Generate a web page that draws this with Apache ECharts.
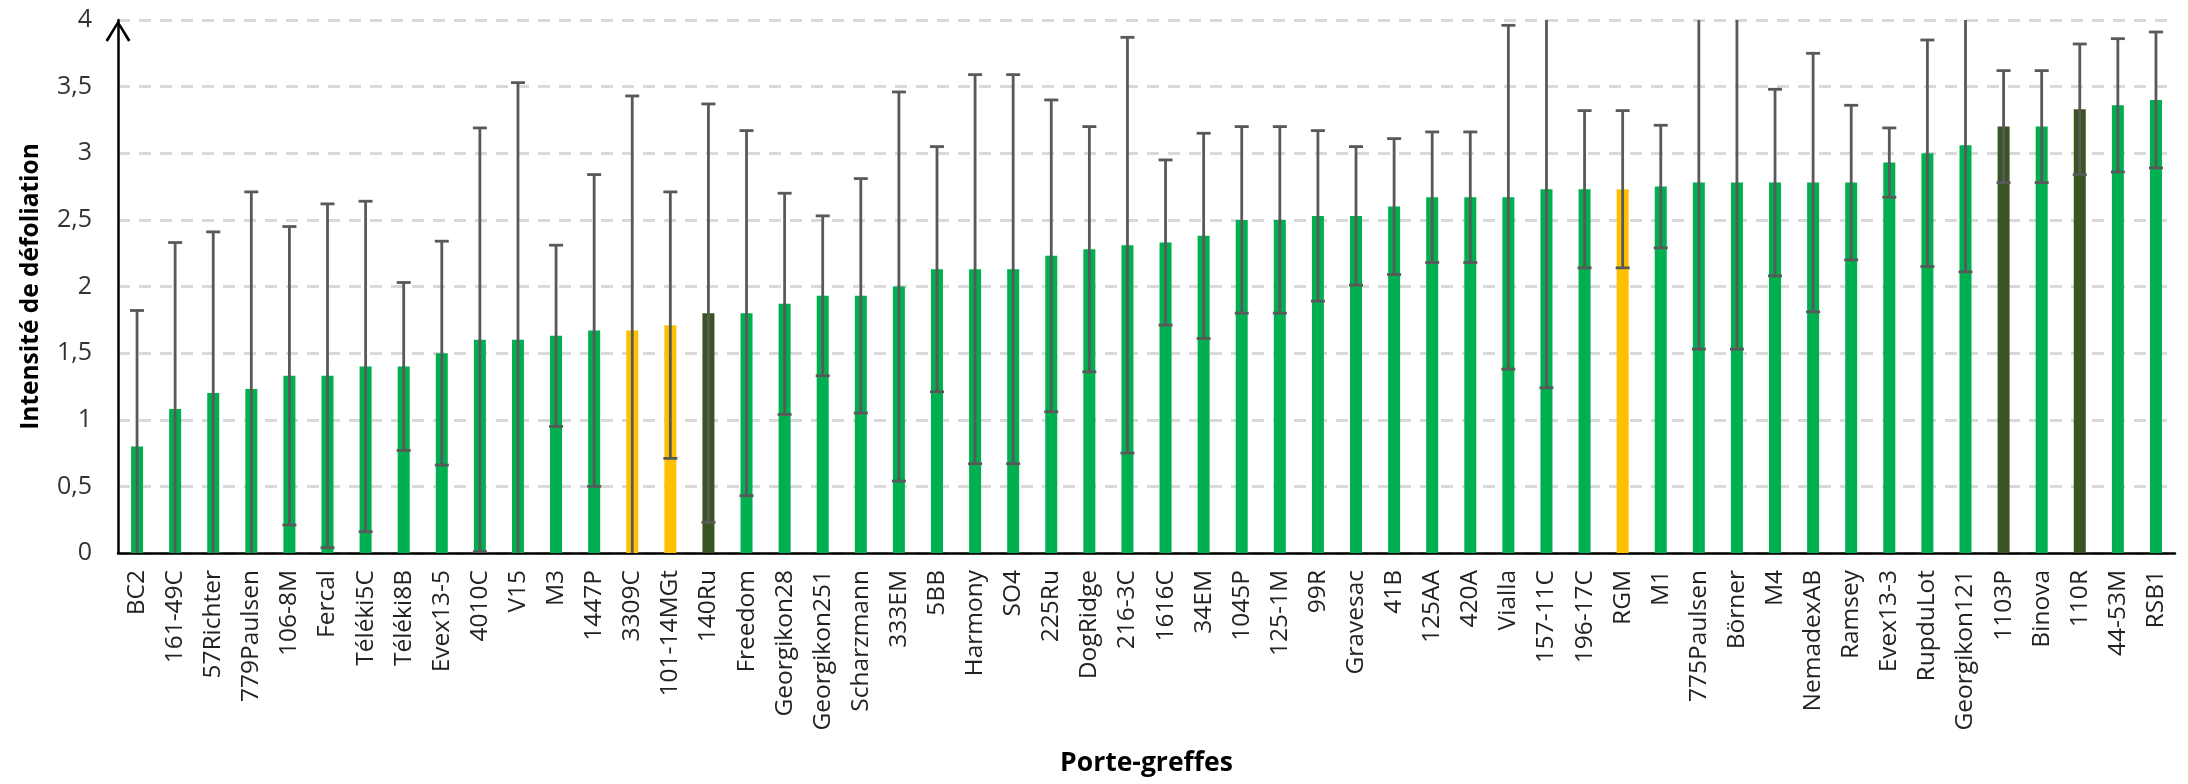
<!DOCTYPE html>
<html>
<head>
<meta charset="utf-8">
<script src="https://cdn.jsdelivr.net/npm/echarts@6/dist/echarts.min.js"></script>
<style>
  html, body { margin: 0; padding: 0; background: #ffffff; }
  #chart { width: 2188px; height: 784px; }
</style>
</head>
<body>
<div id="chart"></div>
<script>
// Rootstocks, ordered by mean defoliation intensity
const categories = [
  'BC2', '161-49C', '57Richter', '779Paulsen', '106-8M', 'Fercal', 'Téléki5C', 'Téléki8B',
  'Evex13-5', '4010C', 'V15', 'M3', '1447P', '3309C', '101-14MGt', '140Ru', 'Freedom',
  'Georgikon28', 'Georgikon251', 'Scharzmann', '333EM', '5BB', 'Harmony', 'SO4', '225Ru',
  'DogRidge', '216-3C', '1616C', '34EM', '1045P', '125-1M', '99R', 'Gravesac', '41B',
  '125AA', '420A', 'Vialla', '157-11C', '196-17C', 'RGM', 'M1', '775Paulsen', 'Börner',
  'M4', 'NemadexAB', 'Ramsey', 'Evex13-3', 'RupduLot', 'Georgikon121', '1103P', 'Binova',
  '110R', '44-53M', 'RSB1'
];

// Mean defoliation intensity per rootstock
const meanValues = [
  0.80, 1.08, 1.20, 1.23, 1.33, 1.33, 1.40, 1.40,
  1.50, 1.60, 1.60, 1.63, 1.67, 1.67, 1.71, 1.80, 1.80,
  1.87, 1.93, 1.93, 2.00, 2.13, 2.13, 2.13, 2.23,
  2.28, 2.31, 2.33, 2.38, 2.50, 2.50, 2.53, 2.53, 2.60,
  2.67, 2.67, 2.67, 2.73, 2.73, 2.73, 2.75, 2.78, 2.78,
  2.78, 2.78, 2.78, 2.93, 3.00, 3.06, 3.20, 3.20,
  3.33, 3.36, 3.40
];

// Standard deviation (symmetric error bars)
const stdDev = [
  1.02, 1.25, 1.21, 1.48, 1.12, 1.29, 1.24, 0.63,
  0.84, 1.59, 1.93, 0.68, 1.17, 1.76, 1.00, 1.57, 1.37,
  0.83, 0.60, 0.88, 1.46, 0.92, 1.46, 1.46, 1.17,
  0.92, 1.56, 0.62, 0.77, 0.70, 0.70, 0.64, 0.52, 0.51,
  0.49, 0.49, 1.29, 1.49, 0.59, 0.59, 0.46, 1.25, 1.25,
  0.70, 0.97, 0.58, 0.26, 0.85, 0.95, 0.42, 0.42,
  0.49, 0.50, 0.51
];

// Highlighted groups
const yellowGroup = ['3309C', '101-14MGt', 'RGM'];
const darkGroup = ['140Ru', '1103P', '110R'];

const yMin = 0, yMax = 4, yStep = 0.5;

const GREEN = '#00B050', YELLOW = '#FFC000', DARK = '#3A5424';
const ERR = '#595959';

function barColor(name) {
  if (yellowGroup.includes(name)) return YELLOW;
  if (darkGroup.includes(name)) return DARK;
  return GREEN;
}

const barData = categories.map((c, i) => ({
  value: meanValues[i],
  itemStyle: { color: barColor(c) }
}));
const errData = categories.map((c, i) => [i, meanValues[i], stdDev[i]]);

const chart = echarts.init(document.getElementById('chart'), null, { renderer: 'canvas' });

chart.setOption({
  animation: false,
  backgroundColor: '#ffffff',
  grid: { left: 118, right: 13, top: 20, bottom: 231, containLabel: false },
  xAxis: {
    type: 'category',
    data: categories,
    boundaryGap: true,
    name: 'Porte-greffes',
    nameLocation: 'middle',
    nameGap: 197,
    nameTextStyle: { fontFamily: 'Open Sans', fontWeight: 'bold', fontSize: 26.5, color: '#000' },
    axisLine: { show: true, lineStyle: { color: '#000', width: 2.5 } },
    axisTick: { show: false },
    axisLabel: {
      interval: 0, rotate: 90, margin: 17,
      fontFamily: 'Open Sans', fontSize: 24.5, color: '#222'
    },
    splitLine: { show: false }
  },
  yAxis: {
    type: 'value',
    min: yMin, max: yMax, interval: yStep,
    name: 'Intensité de défoliation',
    nameLocation: 'middle',
    nameGap: 74,
    nameTextStyle: { fontFamily: 'Open Sans', fontWeight: 'bold', fontSize: 24.5, color: '#000' },
    axisLine: {
      show: true,
      lineStyle: { color: '#000', width: 2.5 },
      symbol: ['none', 'path://M12.5,0 L25,20 L22.6,21.6 L12.5,4.6 L2.4,21.6 L0,20 Z'],
      symbolSize: [25, 22],
      symbolOffset: [0, -11]
    },
    axisTick: { show: false },
    axisLabel: {
      margin: 26, fontFamily: 'Open Sans', fontSize: 25, color: '#333',
      formatter: v => String(v).replace('.', ',')
    },
    splitLine: { show: true, lineStyle: { color: '#D9D9D9', width: 3, type: [12, 9] } }
  },
  series: [
    {
      type: 'bar',
      data: barData,
      barWidth: 12,
      z: 2
    },
    {
      type: 'custom',
      data: errData,
      clip: true,
      z: 3,
      encode: { x: 0, y: 1 },
      renderItem(params, api) {
        const idx = api.value(0);
        const m = api.value(1), s = api.value(2);
        const hi = api.coord([idx, m + s]);
        const lo = api.coord([idx, m - s]);
        const x = hi[0];
        const hw = 7;
        const st = { stroke: ERR, lineWidth: 2.8 };
        return {
          type: 'group',
          children: [
            { type: 'line', shape: { x1: x, y1: hi[1], x2: x, y2: lo[1] }, style: st },
            { type: 'line', shape: { x1: x - hw, y1: hi[1], x2: x + hw, y2: hi[1] }, style: st },
            { type: 'line', shape: { x1: x - hw, y1: lo[1], x2: x + hw, y2: lo[1] }, style: st }
          ]
        };
      }
    }
  ]
});
</script>
</body>
</html>
